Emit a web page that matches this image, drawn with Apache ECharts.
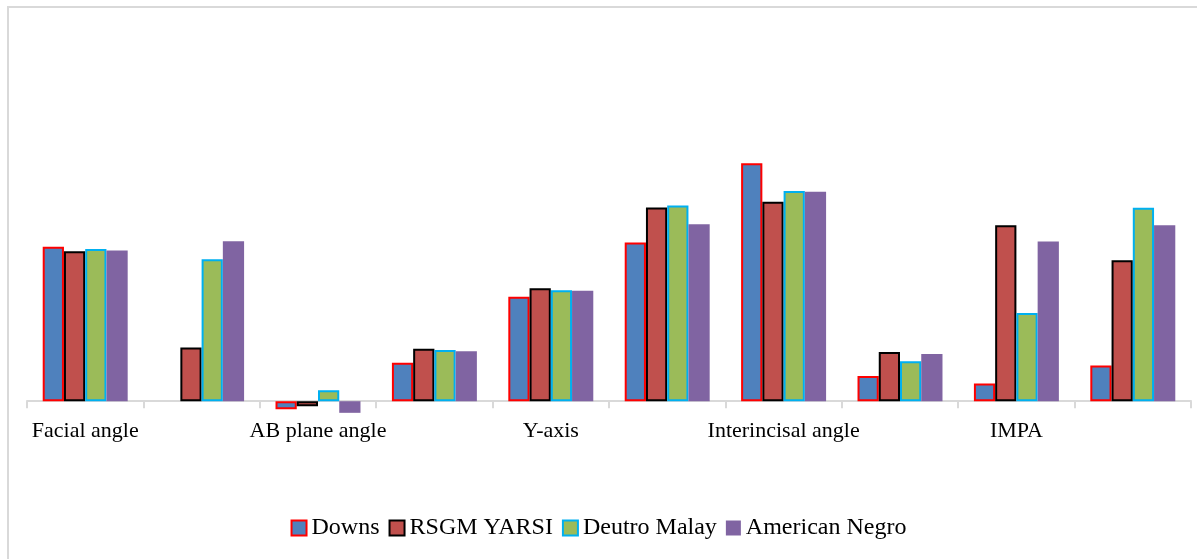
<!DOCTYPE html>
<html>
<head>
<meta charset="utf-8">
<script src="https://cdn.jsdelivr.net/npm/echarts@6/dist/echarts.min.js"></script>
<style>
  html, body { margin: 0; padding: 0; background: #fff; }
  #main { width: 1197px; height: 559px; }
</style>
</head>
<body>
<div id="main"></div>
<script>
// categories (only every other label is printed on the axis)
var categories = ['Facial angle', 'Angle of convexity', 'AB plane angle', 'Mandibular plane angle',
  'Y-axis', 'Cant of occlusal plane', 'Interincisal angle', 'Incisor to occlusal plane',
  'IMPA', 'Upper incisor to A-Pog line'];

var downs      = [87.8, 0,    -4.6, 21.9, 59.4, 90.3, 135.4, 14.3, 10.1, 20.3];
var rsgmYarsi  = [85.3, 30.5, -2.8, 29.8, 64.3, 110.2, 113.4, 28.0, 100.1, 80.2];
var deutroMalay = [86.6, 80.8, 6.3, 29.2, 63.1, 111.3, 119.6, 22.8, 50.2, 110.0];
var amNegro    = [85.7, 91.0, -6.6, 28.4, 62.9, 100.7, 119.1, 26.9, 90.8, 100.1];

var seriesNames = ['Downs', 'RSGM YARSI', 'Deutro Malay', 'American Negro'];

var font = 'Liberation Serif';

var chart = echarts.init(document.getElementById('main'));

function bar(name, data, fill, border) {
  return {
    name: name,
    type: 'bar',
    // a zero value has no visible bar (no outline either)
    data: data.map(function (v) {
      return v === 0 ? { value: v, itemStyle: { borderWidth: 0 } } : v;
    }),
    barGap: '0%',
    barCategoryGap: '27%',
    itemStyle: {
      color: fill,
      borderColor: border || fill,
      borderWidth: border ? 2 : 0
    },
    emphasis: { disabled: true }
  };
}

var option = {
  animation: false,
  graphic: [{
    type: 'rect',
    shape: { x: 8, y: 7, width: 1300, height: 700 },
    style: { fill: 'none', stroke: '#d9d9d9', lineWidth: 2 },
    silent: true
  }],
  grid: {
    left: 27,
    right: 6,
    top: 49.6,
    height: 369.2
  },
  legend: {
    data: seriesNames,
    left: 'center',
    top: 511,
    icon: 'rect',
    itemWidth: 15,
    itemHeight: 15,
    itemGap: 9,
    itemTextGap: 10,
    textStyle: { fontFamily: font, fontSize: 24, color: '#000' }
  },
  xAxis: {
    type: 'category',
    data: categories,
    axisLine: { onZero: true, lineStyle: { color: '#d9d9d9', width: 2 } },
    axisTick: { show: true, interval: 0, length: 7, lineStyle: { color: '#d9d9d9', width: 2 } },
    axisLabel: {
      interval: 1,
      margin: 1,
      fontFamily: font,
      fontSize: 22,
      color: '#000'
    }
  },
  yAxis: {
    type: 'value',
    min: -10,
    max: 200,
    show: false,
    splitLine: { show: false }
  },
  series: [
    bar(seriesNames[0], downs, '#4f81bd', '#ff0000'),
    bar(seriesNames[1], rsgmYarsi, '#c0504d', '#000000'),
    bar(seriesNames[2], deutroMalay, '#9bbb59', '#00b0f0'),
    bar(seriesNames[3], amNegro, '#8064a2', null)
  ]
};

chart.setOption(option);

window.onresize = function () {
  chart.resize();
};
</script>
</body>
</html>
